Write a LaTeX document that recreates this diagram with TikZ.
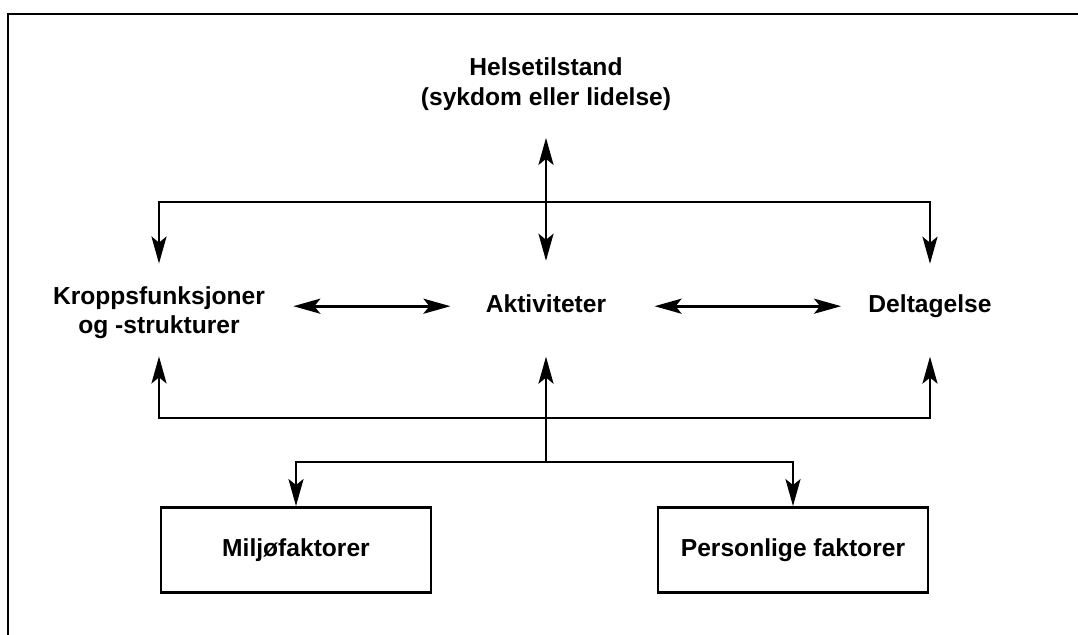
\documentclass[tikz,border=0pt]{standalone}
\usepackage{fontspec}
\setsansfont{Liberation Sans}
\usetikzlibrary{arrows.meta}

\begin{document}
\begin{tikzpicture}[x=0.5pt,y=-0.5pt,line width=1.4pt,
	>={Stealth[length=13.5pt,width=7.5pt,inset=3pt]},
	text node/.style={inner sep=0pt,align=center,font=\sffamily\bfseries\fontsize{12.3}{15}\selectfont},
	box node/.style={draw,text node,minimum width=135pt,minimum height=42.5pt}]
	\useasboundingbox (0,0) rectangle (1078,635);
	\draw[line width=1pt] (7.5,635) -- (7.5,14) -- (1078,14);
	
	\node[text node] (helse) at (546,84) {Helsetilstand\\(sykdom eller lidelse)};
	\node[text node,font=\sffamily\bfseries\fontsize{12.3}{14.5}\selectfont] (kropp) at (159,313) {Kroppsfunksjoner\\og -strukturer};
	\node[text node,anchor=base] (akt) at (546,313) {Aktiviteter};
	\node[text node,anchor=base] (delt) at (930,313) {Deltagelse};
	\node[box node] (miljo) at (296,550) {Miljøfaktorer};
	\node[box node] (pers) at (793,550) {Personlige faktorer};
	
	\coordinate (topbar) at (546,202);
	\coordinate (botbar) at (546,418);
	\coordinate (split) at (546,462);
	
	\draw[<->,shorten <=13pt,shorten >=16.5pt] (helse.south) -- (akt.north);
	\draw[->,shorten >=11pt] (topbar) -| (kropp.north);
	\draw[->,shorten >=15pt] (topbar) -| (delt.north);
	\draw[<->,shorten <=13.5pt,shorten >=17pt] ([yshift=-1pt]kropp.east |- akt.west) -- ([yshift=-1pt]akt.west);
	\draw[<->,shorten <=23.5pt,shorten >=13pt] ([yshift=-1pt]akt.east) -- ([yshift=-1pt]delt.west |- akt.east);
	\draw[->,shorten >=21pt] (split) -- (akt.south);
	\draw[->,shorten >=8pt] (botbar) -| (kropp.south);
	\draw[->,shorten >=18.5pt] (botbar) -| (delt.south);
	\draw[->] (split) -| (miljo.north);
	\draw[->] (split) -| (pers.north);
\end{tikzpicture}
\end{document}
